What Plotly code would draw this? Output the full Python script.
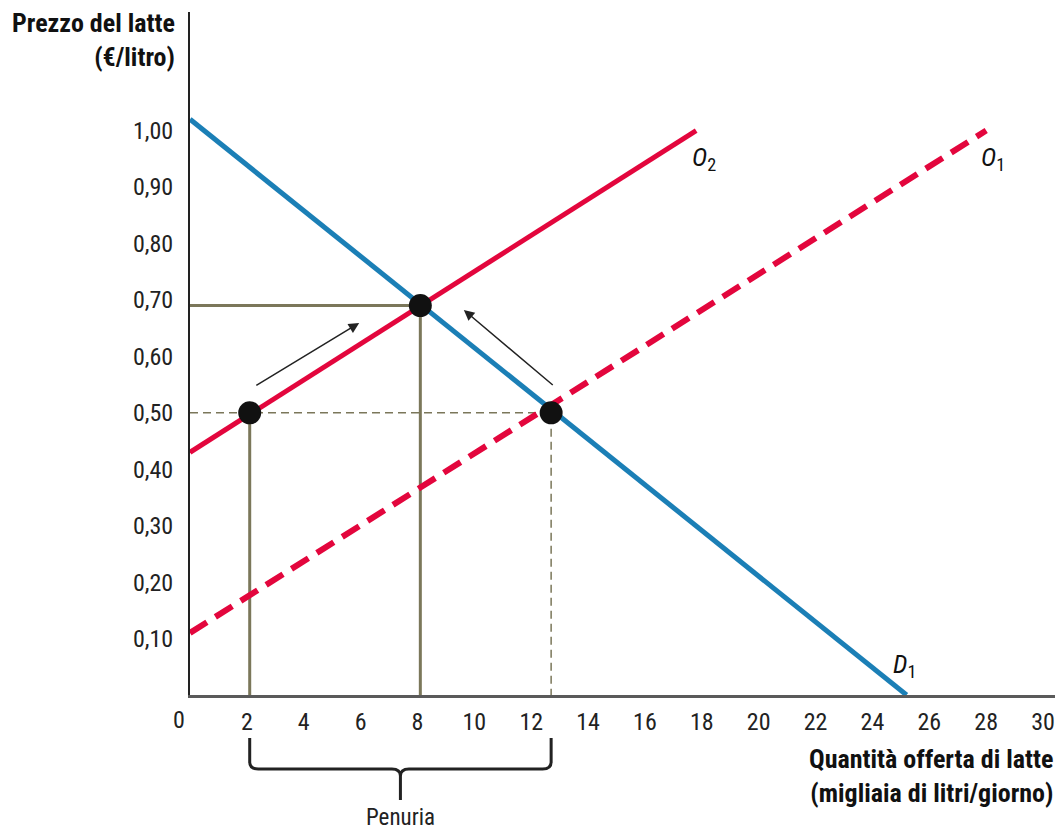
import plotly.graph_objects as go

# ---- data ----
qty_ticks = list(range(0, 31, 2))
price_ticks = [0.1, 0.2, 0.3, 0.4, 0.5, 0.6, 0.7, 0.8, 0.9, 1.0]
price_tick_labels = ["0,10", "0,20", "0,30", "0,40", "0,50", "0,60", "0,70", "0,80", "0,90", "1,00"]

demand_q = [0, 25.2]
demand_p = [1.02, 0.0]
o2_q = [0, 17.8]
o2_p = [0.43, 1.0]
o1_q = [0, 28.0]
o1_p = [0.11, 1.0]

q_shortage_low = 2.1   # quantity supplied at the ceiling price
q_equil = 8.1
p_equil = 0.69
q_shortage_high = 12.7  # quantity demanded at the ceiling price
p_ceiling = 0.5

pts_q = [q_shortage_low, q_equil, q_shortage_high]
pts_p = [p_ceiling, p_equil, p_ceiling]

# ---- style ----
FONT = "Roboto Condensed, DejaVu Sans Condensed, Liberation Sans Narrow, Liberation Sans, sans-serif"
BLUE = "#1b7fb6"
RED = "#e3063d"
OLIVE = "#7b775a"
XR = [0, 30.42]
YR = [0, 1.21]
OFF = 8  # page body margin
W, H = 1063 - OFF, 831 - OFF
# target page pixel positions of the plot area
PL, PR, PT, PB = 190, 1055, 12, 695
L, R, T, B = PL - OFF, W - (PR - OFF), PT - OFF, H - (PB - OFF)
plot_h = PB - PT
plot_w = PR - PL


def py2paper(py):
    return (PB - py) / plot_h


def px2paper(px):
    return (px - PL) / plot_w


fig = go.Figure()

# guide lines
fig.add_trace(go.Scatter(x=[0, q_equil, q_equil], y=[p_equil, p_equil, 0], mode="lines",
                         line=dict(color=OLIVE, width=3), hoverinfo="skip", showlegend=False))
fig.add_trace(go.Scatter(x=[q_shortage_low, q_shortage_low], y=[p_ceiling, 0], mode="lines",
                         line=dict(color=OLIVE, width=3), hoverinfo="skip", showlegend=False))
fig.add_trace(go.Scatter(x=[0, q_shortage_high, q_shortage_high], y=[p_ceiling, p_ceiling, 0], mode="lines",
                         line=dict(color=OLIVE, width=1.5, dash="8px,5px"), hoverinfo="skip", showlegend=False))

# curves
fig.add_trace(go.Scatter(x=o1_q, y=o1_p, mode="lines", line=dict(color=RED, width=6, dash="20px,10px"),
                         hoverinfo="skip", showlegend=False))
fig.add_trace(go.Scatter(x=demand_q, y=demand_p, mode="lines", line=dict(color=BLUE, width=5),
                         hoverinfo="skip", showlegend=False))
fig.add_trace(go.Scatter(x=o2_q, y=o2_p, mode="lines", line=dict(color=RED, width=5),
                         hoverinfo="skip", showlegend=False))

# points
fig.add_trace(go.Scatter(x=pts_q, y=pts_p, mode="markers", marker=dict(color="#111111", size=23),
                         hoverinfo="skip", showlegend=False))

annotations = []
# arrows
annotations.append(dict(x=5.95, y=0.659, ax=2.28, ay=0.547, xref="x", yref="y", axref="x", ayref="y",
                        text="", showarrow=True, arrowhead=2, arrowsize=1.4, arrowwidth=1.5, arrowcolor="#222222"))
annotations.append(dict(x=9.63, y=0.682, ax=12.81, ay=0.547, xref="x", yref="y", axref="x", ayref="y",
                        text="", showarrow=True, arrowhead=2, arrowsize=1.4, arrowwidth=1.5, arrowcolor="#222222"))

# curve labels
for txt, x, y in [("<i>O</i><sub>2</sub>", 17.6, 0.95), ("<i>O</i><sub>1</sub>", 27.75, 0.95), ("<i>D</i><sub>1</sub>", 24.65, 0.053)]:
    annotations.append(dict(x=x, y=y, xref="x", yref="y", text=txt, showarrow=False,
                            font=dict(family=FONT, size=26, color="#111111"), xanchor="left", yanchor="middle"))

# zero label
annotations.append(dict(x=px2paper(179), y=py2paper(720), xref="paper", yref="paper", text="0", showarrow=False,
                        font=dict(family=FONT, size=24, color="#222222"), xanchor="center", yanchor="middle"))

# axis titles
annotations.append(dict(x=px2paper(177), y=py2paper(6), xref="paper", yref="paper",
                        text="<b>Prezzo del latte</b><br><b>(€/litro)</b>", showarrow=False, align="right",
                        xanchor="right", yanchor="top", font=dict(family=FONT, size=26, color="#111111")))
annotations.append(dict(x=px2paper(1055), y=py2paper(742), xref="paper", yref="paper",
                        text="<b>Quantità offerta di latte</b><br><b>(migliaia di litri/giorno)</b>", showarrow=False,
                        align="right", xanchor="right", yanchor="top", font=dict(family=FONT, size=26, color="#111111")))

# Penuria
mid = (q_shortage_low + q_shortage_high) / 2
annotations.append(dict(x=mid, y=py2paper(817), xref="x", yref="paper", text="Penuria", showarrow=False,
                        font=dict(family=FONT, size=23, color="#222222"), xanchor="center", yanchor="middle"))

y_top, y_h, y_tip = py2paper(738), py2paper(769), py2paper(800)
r = 0.3
c = py2paper(762) - y_h
path = (f"M {q_shortage_low},{y_top} L {q_shortage_low},{y_h + c} "
        f"Q {q_shortage_low},{y_h} {q_shortage_low + r},{y_h} "
        f"L {mid - r},{y_h} Q {mid},{y_h} {mid},{y_h - c} L {mid},{y_tip} "
        f"L {mid},{y_h - c} Q {mid},{y_h} {mid + r},{y_h} "
        f"L {q_shortage_high - r},{y_h} Q {q_shortage_high},{y_h} {q_shortage_high},{y_h + c} "
        f"L {q_shortage_high},{y_top}")
shapes = [dict(type="path", xref="x", yref="paper", path=path, line=dict(color="#222222", width=3))]

fig.update_layout(
    width=W, height=H,
    margin=dict(l=L, r=R, t=T, b=B, autoexpand=False),
    paper_bgcolor="white", plot_bgcolor="white",
    annotations=annotations, shapes=shapes,
    xaxis=dict(range=XR, tickvals=qty_ticks[1:], ticktext=[str(v) for v in qty_ticks[1:]],
               showgrid=False, zeroline=False, showline=True, linecolor="#5a5a5a", linewidth=3,
               ticks="outside", ticklen=3, tickcolor="rgba(0,0,0,0)",
               tickfont=dict(family=FONT, size=24, color="#222222")),
    yaxis=dict(range=YR, tickvals=price_ticks, ticktext=price_tick_labels,
               showgrid=False, zeroline=False, showline=True, linecolor="#222222", linewidth=2,
               ticks="outside", ticklen=10, tickcolor="rgba(0,0,0,0)",
               tickfont=dict(family=FONT, size=24, color="#222222")),
    font=dict(family=FONT),
)

fig.write_html("out.html")
